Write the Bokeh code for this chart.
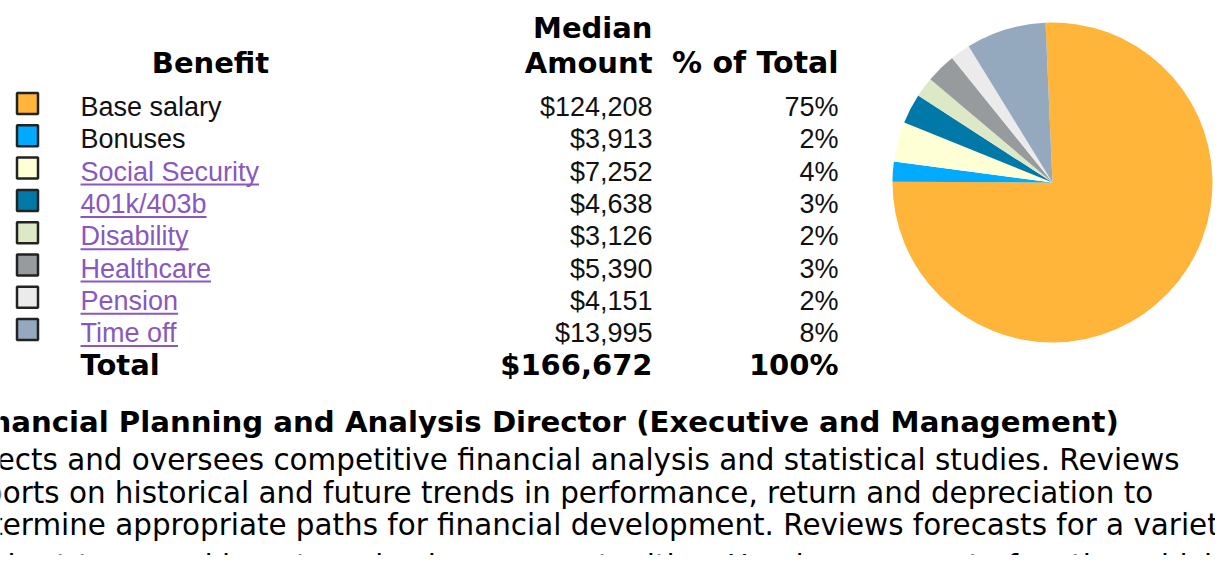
from bokeh.plotting import figure
from bokeh.models import Range1d
from bokeh.core.properties import value
from bokeh.embed import file_html
from bokeh.resources import INLINE
import math

# ---------------- data ----------------
benefits = ["Base salary", "Bonuses", "Social Security", "401k/403b",
            "Disability", "Healthcare", "Pension", "Time off"]
amounts = [124208, 3913, 7252, 4638, 3126, 5390, 4151, 13995]
percents = [75, 2, 4, 3, 2, 3, 2, 8]
is_link = [False, False, True, True, True, True, True, True]
colors = ["#FFB43A", "#00AAFF", "#FFFFD6", "#0079A8",
          "#DCE8C6", "#979B9D", "#EBEBEB", "#95A9BE"]
header_benefit = "Benefit"
header_median = "Median"
header_amount = "Amount"
header_pct = "% of Total"
total_label = "Total"
total_amount_label = "$166,672"
total_pct_label = "100%"
title_text = "Financial Planning and Analysis Director (Executive and Management)"
body_lines = [
    "Directs and oversees competitive financial analysis and statistical studies. Reviews",
    "reports on historical and future trends in performance, return and depreciation to",
    "determine appropriate paths for financial development. Reviews forecasts for a variety",
    "of short-term and long-term business opportunities. Heads a corporate function which provides",
]

# ---------------- layout / style ----------------
W, H = 1215, 555
ROW_FONT = "27px"
ROW_PX = 27
BOLD_FONT = "29px"
LINK_COLOR = "#8858C0"
TEXT_COLOR = "#111111"
TDY = 6.5  # baseline correction for text glyphs
row_base0, row_step = 115.0, 32.3
col_name_x = 80
col_amt_x = 652
col_pct_x = 838
sq_x = 27
pie_cx, pie_cy, pie_r = 1052, 182, 160
pie_start_deg = 92.5
title_x = -40
body_x = -46
title_base = 432
body_bases = [470, 502.5, 535, 576]

# Arial / Liberation Sans advance widths (per 1000 em) to size underlines
ARIAL_W = {' ': 278, '/': 278, 'S': 667, 'o': 556, 'c': 500, 'i': 222, 'a': 556,
           'l': 222, 'e': 556, 'u': 556, 'r': 333, 't': 278, 'y': 500, 'k': 500,
           'b': 556, 'D': 722, 's': 500, 'H': 722, 'h': 556, 'P': 667, 'n': 556,
           'T': 611, 'm': 833, 'f': 278, 'B': 667}
for d in "0123456789":
    ARIAL_W[d] = 556


def arial_width(s, px):
    return sum(ARIAL_W.get(ch, 556) for ch in s) / 1000.0 * px


p = figure(width=W, height=H, x_range=Range1d(0, W), y_range=Range1d(H, 0),
           output_backend="svg", toolbar_location=None, min_border=0,
           x_axis_type=None, y_axis_type=None)
p.grid.visible = False
p.outline_line_color = None
p.background_fill_color = "white"
p.border_fill_color = "white"

n = len(benefits)
baselines = [row_base0 + row_step * i for i in range(n)]
tb = [b + TDY for b in baselines]

# legend squares
p.rect(x=[sq_x] * n, y=[b - 12 for b in baselines], width=21, height=21,
       fill_color=colors, line_color="#222222", line_width=2.5)

# headers
p.text(x=[210], y=[73 + TDY], text=[header_benefit], text_align="center",
       text_font=value("DejaVu Sans"), text_font_style="bold", text_font_size=BOLD_FONT,
       text_color="black")
p.text(x=[col_amt_x, col_amt_x], y=[38 + TDY, 73 + TDY], text=[header_median, header_amount],
       text_align="right", text_font=value("DejaVu Sans"), text_font_style="bold",
       text_font_size=BOLD_FONT, text_color="black")
p.text(x=[col_pct_x], y=[73 + TDY], text=[header_pct], text_align="right",
       text_font=value("DejaVu Sans"), text_font_style="bold", text_font_size="30px",
       text_color="black")

# rows
name_colors = [LINK_COLOR if l else TEXT_COLOR for l in is_link]
p.text(x=[col_name_x] * n, y=tb, text=benefits, text_align="left",
       text_font=value("Liberation Sans"), text_font_size=ROW_FONT, text_color=name_colors)
p.text(x=[col_amt_x] * n, y=tb, text=[f"${a:,}" for a in amounts], text_align="right",
       text_font=value("Liberation Sans"), text_font_size=ROW_FONT, text_color=TEXT_COLOR)
p.text(x=[col_pct_x] * n, y=tb, text=[f"{v}%" for v in percents], text_align="right",
       text_font=value("Liberation Sans"), text_font_size=ROW_FONT, text_color=TEXT_COLOR)

# underlines for links
ux0, ux1, uy = [], [], []
for name, link, b in zip(benefits, is_link, baselines):
    if link:
        ux0.append(col_name_x)
        ux1.append(col_name_x + arial_width(name, ROW_PX))
        uy.append(b + 4.5)
p.segment(x0=ux0, y0=uy, x1=ux1, y1=uy, line_color=LINK_COLOR, line_width=2)

# total row
tot_base = 375 + TDY
p.text(x=[col_name_x], y=[tot_base], text=[total_label], text_align="left",
       text_font=value("DejaVu Sans"), text_font_style="bold", text_font_size=BOLD_FONT,
       text_color="black")
p.text(x=[col_amt_x, col_pct_x], y=[tot_base, tot_base],
       text=[total_amount_label, total_pct_label], text_align="right",
       text_font=value("DejaVu Sans"), text_font_style="bold", text_font_size=BOLD_FONT,
       text_color="black")

# pie (clockwise from top)
tot = float(sum(percents))
starts, ends = [], []
cum = 0.0
for v in percents:
    a0 = math.radians(pie_start_deg - cum / tot * 360.0)
    cum += v
    a1 = math.radians(pie_start_deg - cum / tot * 360.0)
    starts.append(a0)
    ends.append(a1)
p.wedge(x=[pie_cx] * n, y=[pie_cy] * n, radius=pie_r, start_angle=starts, end_angle=ends,
        direction="clock", fill_color=colors, line_color=None)

# paragraph below
p.text(x=[title_x], y=[title_base + TDY], text=[title_text], text_align="left",
       text_font=value("DejaVu Sans"), text_font_style="bold", text_font_size="29.2px",
       text_color="black")
p.text(x=[body_x] * len(body_lines), y=[b + TDY for b in body_bases],
       text=body_lines, text_align="left", text_font=value("DejaVu Sans"),
       text_font_size="29.4px", text_color="black")

open("out.html", "w").write(file_html(p, INLINE))
